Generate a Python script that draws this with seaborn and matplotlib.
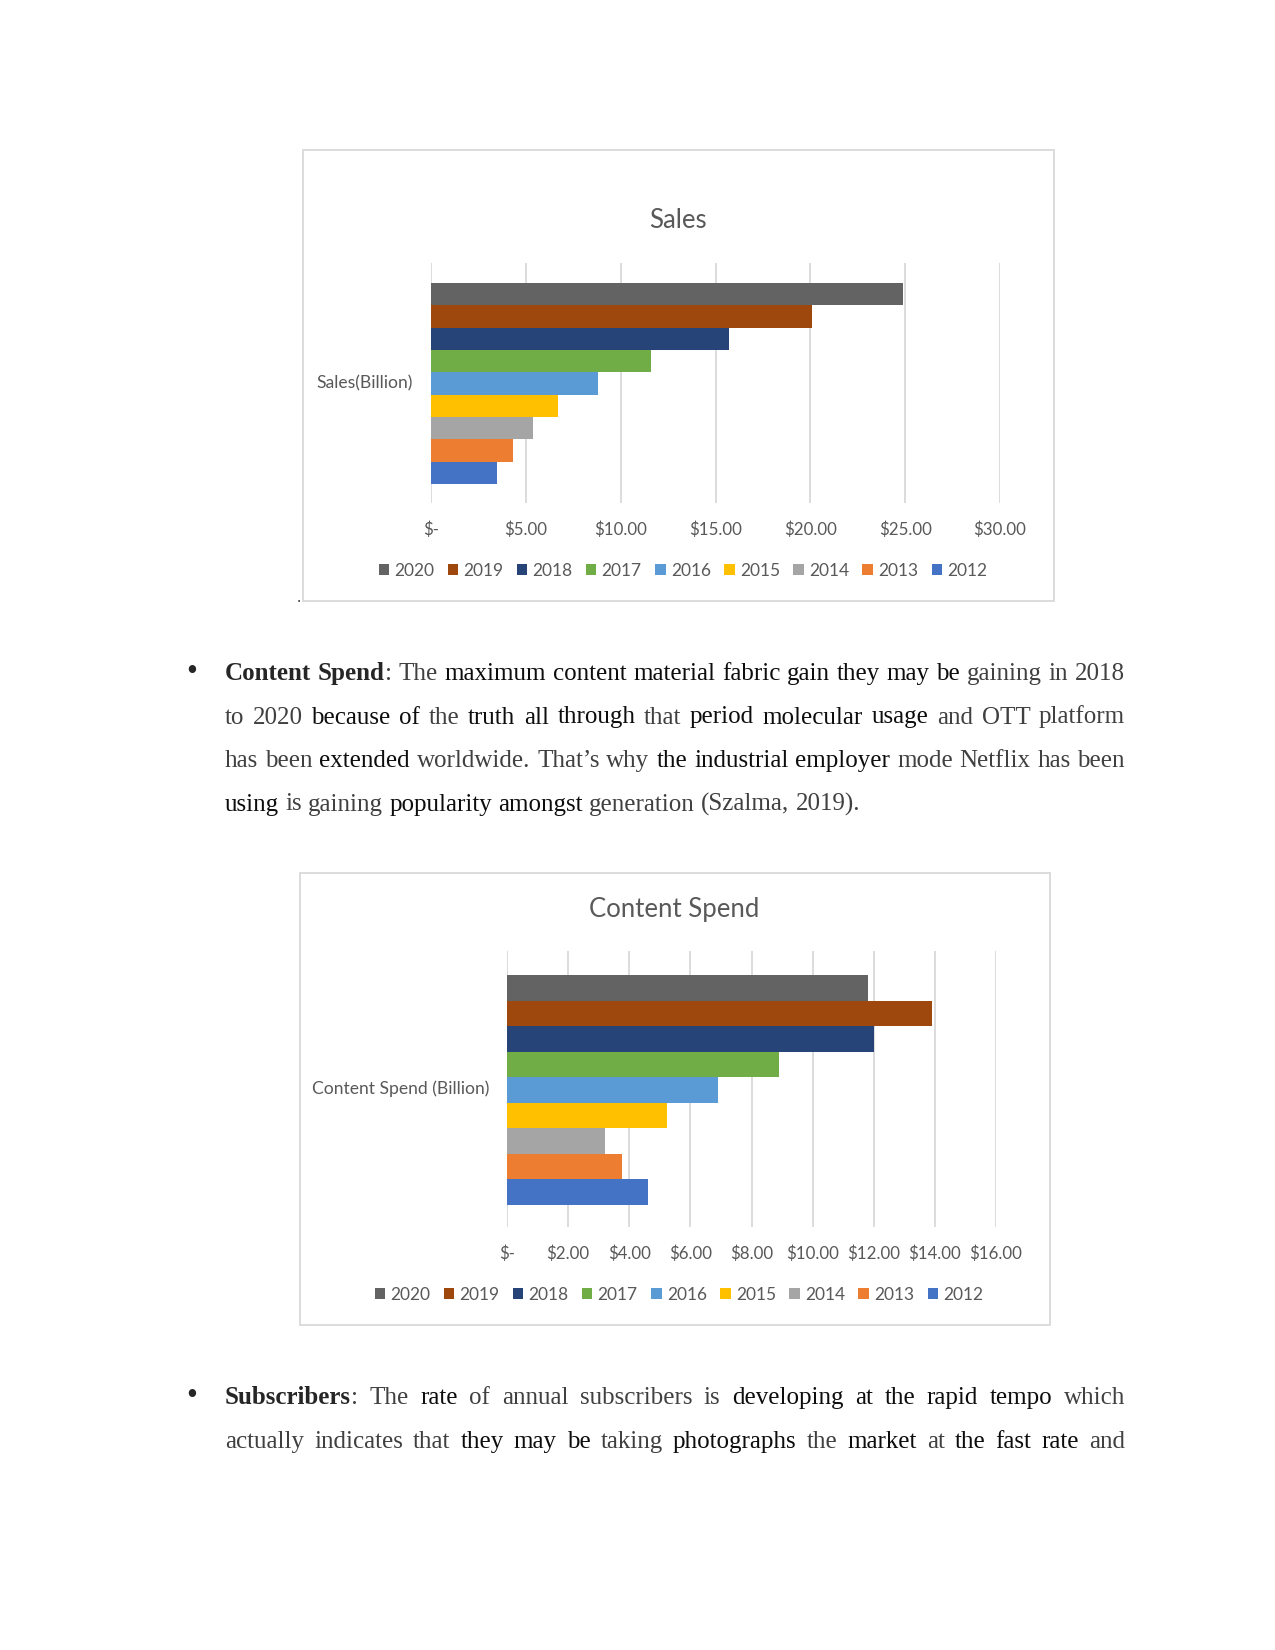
import matplotlib.pyplot as plt
import pandas as pd
import seaborn as sns
from matplotlib.patches import Patch, Rectangle

# chart data
years = ["2020", "2019", "2018", "2017", "2016", "2015", "2014", "2013", "2012"]
sales = [24.9, 20.1, 15.7, 11.6, 8.8, 6.7, 5.4, 4.3, 3.5]
content_spend = [11.8, 13.9, 12.0, 8.9, 6.9, 5.25, 3.2, 3.75, 4.6]
year_colors = ["#636363", "#9E480E", "#264478", "#70AD47", "#5B9BD5",
               "#FFC000", "#A5A5A5", "#ED7D31", "#4472C4"]
sales_ticks = [0, 5, 10, 15, 20, 25, 30]
sales_labels = ["$-", "$5.00", "$10.00", "$15.00", "$20.00", "$25.00", "$30.00"]
spend_ticks = [0, 2, 4, 6, 8, 10, 12, 14, 16]
spend_labels = ["$-", "$2.00", "$4.00", "$6.00", "$8.00", "$10.00",
                "$12.00", "$14.00", "$16.00"]

# body text: (segment, style)  b = bold, k = black, g = grey
content_lines = [
    [("Content Spend", "b"), (":", "g"), ("The", "g"),
     ("maximum content material fabric gain they may be", "k"), ("gaining in 2018", "g")],
    [("to 2020", "g"), ("because of", "k"), ("the", "g"), ("truth all through", "k"),
     ("that", "g"), ("period molecular usage", "k"), ("and OTT platform", "g")],
    [("has been", "g"), ("extended", "k"), ("worldwide. That’s why", "g"),
     ("the industrial employer", "k"), ("mode Netflix has been", "g")],
    [("using", "k"), ("is gaining", "g"), ("popularity amongst", "k"),
     ("generation (Szalma, 2019).", "g")],
]
subscriber_lines = [
    [("Subscribers", "b"), (":", "g"), ("The", "g"), ("rate", "k"),
     ("of annual subscribers is", "g"), ("developing at the rapid tempo", "k"), ("which", "g")],
    [("actually indicates that", "g"), ("they may be", "k"), ("taking", "g"),
     ("photographs", "k"), ("the", "g"), ("market", "k"), ("at", "g"),
     ("the fast rate", "k"), ("and", "g")],
]

W, H = 1275, 1650
CHART_FONT = ["Lato", "DejaVu Sans"]
SERIF = ["Liberation Serif", "DejaVu Serif"]
TXT = "#595959"


def px_axes(fig, left, top, right, bottom):
    return fig.add_axes([left / W, 1 - bottom / H, (right - left) / W, (bottom - top) / H])


def frame(fig, left, top, right, bottom):
    fig.add_artist(Rectangle((left / W, 1 - bottom / H), (right - left) / W,
                             (bottom - top) / H, transform=fig.transFigure,
                             fill=False, ec="#D9D9D9", lw=1.3))


def bar_chart(fig, box, plot, values, ticks, labels, title, title_xy, ylab,
              legend_xy, pad_t, pad_b, tick_pad):
    frame(fig, *box)
    ax = px_axes(fig, *plot)
    df = pd.DataFrame({"year": years, "value": values})
    sns.barplot(data=df, x="value", y="year", hue="year", order=years,
                hue_order=years, palette=dict(zip(years, year_colors)),
                dodge=False, width=1.0, saturation=1, legend=False,
                linewidth=0, ax=ax)
    ax.set_xlim(ticks[0], ticks[-1])
    ax.set_ylim(len(years) - 0.5 + pad_b, -0.5 - pad_t)
    ax.set_xticks(ticks)
    ax.set_xticklabels(labels, family=CHART_FONT, fontsize=12.2, color=TXT)
    ax.set_yticks([])
    ax.set_xlabel("")
    ax.set_ylabel("")
    ax.tick_params(axis="x", length=0, pad=tick_pad)
    ax.grid(axis="x", color="#D9D9D9", lw=1.3)
    ax.set_axisbelow(True)
    for s in ax.spines.values():
        s.set_visible(False)
    ax.annotate(ylab, xy=(0, 0.5), xycoords="axes fraction", xytext=(-13, 0),
                textcoords="offset points", ha="right", va="center",
                family=CHART_FONT, fontsize=12.6, color=TXT)
    fig.text(title_xy[0] / W, 1 - title_xy[1] / H, title, ha="center", va="center",
             family=CHART_FONT, fontsize=18.5, color=TXT)
    handles = [Patch(facecolor=c, edgecolor="none") for c in year_colors]
    fig.legend(handles, years, loc="center",
               bbox_to_anchor=(legend_xy[0] / W, 1 - legend_xy[1] / H),
               ncol=len(years), frameon=False,
               prop={"family": CHART_FONT, "size": 12.5},
               handlelength=0.6, handleheight=0.6, handletextpad=0.3,
               columnspacing=0.77, borderpad=0, labelcolor=TXT)
    return ax


def paragraph(fig, lines, baselines, x0, x1, size, justify_last):
    r = fig.canvas.get_renderer()
    colors = {"b": "#262626", "k": "#0d0d0d", "g": "#404040"}
    for i, (segs, yb) in enumerate(zip(lines, baselines)):
        words = []
        for seg, st in segs:
            for w in seg.split(" "):
                words.append((w, st, w == ":"))
        arts = []
        for w, st, glue in words:
            t = fig.text(0, 1 - yb / H, w, family=SERIF, fontsize=size,
                         fontweight="bold" if st == "b" else "normal",
                         color=colors[st], va="baseline", ha="left")
            arts.append((t, t.get_window_extent(r).width, glue))
        total = sum(a[1] for a in arts)
        ngaps = sum(1 for a in arts[1:] if not a[2])
        space = 0.25 * size * 100 / 72
        if i < len(lines) - 1 or justify_last:
            space = (x1 - x0 - total) / ngaps
        x = x0
        for j, (t, w, glue) in enumerate(arts):
            if j > 0 and not glue:
                x += space
            t.set_x(x / W)
            x += w
        if i == 0:
            fig.text(192 / W, 1 - yb / H, "•", family=SERIF, fontsize=size * 1.25,
                     color="#262626", va="baseline", ha="center")


def main():
    sns.set_style("white")
    plt.rcParams["font.family"] = CHART_FONT
    fig = plt.figure(figsize=(W / 100, H / 100), dpi=100)

    bar_chart(fig, (303, 150, 1054, 601), (431, 263, 1000, 503), sales,
              sales_ticks, sales_labels, "Sales", (678, 221), "Sales(Billion)",
              (683, 571), 0.9, 0.85, 13.5)
    fig.text(299 / W, 1 - 602 / H, ".", family=SERIF, fontsize=12, color="#404040",
             ha="center", va="baseline")

    paragraph(fig, content_lines, [680, 723.5, 767, 810.5], 225, 1125, 18, False)

    bar_chart(fig, (300, 873, 1050, 1325), (507, 951, 996, 1227), content_spend,
              spend_ticks, spend_labels, "Content Spend", (674, 910),
              "Content Spend (Billion)", (679, 1295), 0.94, 0.86, 13.5)

    paragraph(fig, subscriber_lines, [1404, 1448], 225, 1125, 18, True)

    fig.savefig("out.png", dpi=100, facecolor="white")


if __name__ == "__main__":
    main()
